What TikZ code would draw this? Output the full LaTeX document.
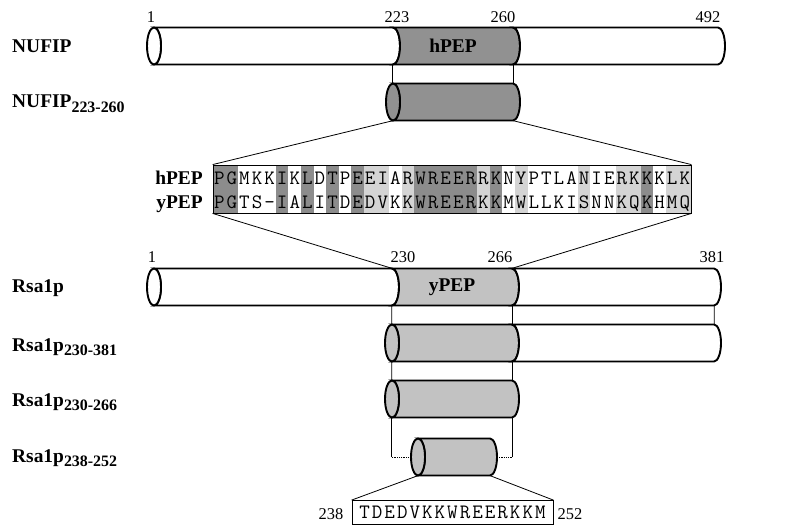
\documentclass[tikz,border=0pt]{standalone}
\usepackage{fontspec}
\setmainfont{Liberation Serif}
\definecolor{hpepgray}{gray}{0.57}
\definecolor{ypepgray}{gray}{0.76}
\definecolor{idgray}{gray}{0.55}
\definecolor{simgray}{gray}{0.83}

% one piece of a tube, from x #1 to x #2, centre y #3, filled with #4
\newcommand{\tubeseg}[4]{%
  \filldraw[tube, fill=#4] (#1,#3+18.5) arc[start angle=90, end angle=-90, x radius=7bp, y radius=18.5bp]
    -- (#2,#3-18.5) arc[start angle=-90, end angle=90, x radius=7bp, y radius=18.5bp] -- cycle;}
\newcommand{\tubecap}[3]{%
  \filldraw[tube, fill=#3] (#1,#2) ellipse[x radius=7bp, y radius=18.5bp];}
\newcommand{\lowsub}[1]{\raisebox{-4.5bp}{\fontsize{16}{16}\selectfont #1}}

\begin{document}
\begin{tikzpicture}[x=1bp, y=1bp]
    % Define styles
    \tikzstyle{tube} = [draw=black, line width=1.9bp]
    \tikzstyle{link} = [draw=black, line width=0.8bp]
    \tikzstyle{segbox} = [rectangle, inner sep=0, minimum height=37bp, font=\fontsize{19.5}{20}\selectfont\bfseries]
    \tikzstyle{protname} = [anchor=base west, inner sep=0, font=\fontsize{19.5}{20}\selectfont\bfseries]
    \tikzstyle{resnum} = [anchor=base, inner sep=0, font=\fontsize{16.5}{17}\selectfont]
    \tikzstyle{aa} = [anchor=base, inner sep=0, font=\fontsize{20.5}{20.5}\selectfont\ttfamily]

    \useasboundingbox (0,0) rectangle (804,-526);

    % Tubes
    \tubeseg{154}{393}{-46}{white}
    \tubeseg{393}{513}{-46}{hpepgray}
    \tubeseg{513}{718}{-46}{white}
    \tubecap{154}{-46}{white}

    \tubeseg{393}{513}{-102}{hpepgray}
    \tubecap{393}{-102}{hpepgray}

    \tubeseg{154}{392}{-287}{white}
    \tubeseg{392}{512}{-287}{ypepgray}
    \tubeseg{512}{714}{-287}{white}
    \tubecap{154}{-287}{white}

    \tubeseg{392}{512}{-343}{ypepgray}
    \tubeseg{512}{714}{-343}{white}
    \tubecap{392}{-343}{ypepgray}

    \tubeseg{392}{512}{-399}{ypepgray}
    \tubecap{392}{-399}{ypepgray}

    \tubeseg{418}{490}{-457}{ypepgray}
    \tubecap{418}{-457}{ypepgray}

    % Domains
    \node[segbox, minimum width=120bp] (hpep) at (453,-46) {hPEP};
    \node[segbox, minimum width=120bp] (nsub) at (453,-102) {};
    \node[segbox, minimum width=564bp] (nufip) at (436,-46) {};
    \node[segbox, minimum width=120bp] (ypep) at (452,-287) {yPEP};
    \node[segbox, minimum width=560bp] (rsa) at (434,-287) {};
    \node[segbox, minimum width=322bp] (r381) at (553,-343) {};
    \node[segbox, minimum width=120bp] (r266) at (452,-399) {};
    \node[segbox, minimum width=72bp] (r252) at (454,-457) {};

    % Protein names
    \node[protname] (lnufip) at (12,-52.5) {NUFIP};
    \node[protname] (lnsub) at (12,-108) {NUFIP\lowsub{223-260}};
    \node[protname] (lrsa) at (12,-293) {Rsa1p};
    \node[protname] (lr381) at (12,-351) {Rsa1p\lowsub{230-381}};
    \node[protname] (lr266) at (12,-406) {Rsa1p\lowsub{230-266}};
    \node[protname] (lr252) at (12,-462) {Rsa1p\lowsub{238-252}};

    % Residue numbers
    \node[resnum] (n1) at (151,-23) {1};
    \node[resnum] (n223) at (397,-23) {223};
    \node[resnum] (n260) at (503,-23) {260};
    \node[resnum] (n492) at (708,-23) {492};
    \node[resnum] (r1) at (152,-263) {1};
    \node[resnum] (r230) at (403,-263) {230};
    \node[resnum] (r266n) at (500,-263) {266};
    \node[resnum] (r381n) at (712,-263) {381};
    \node[resnum] (m238) at (331,-519) {238};
    \node[resnum] (m252) at (570,-519) {252};

    % Alignment
    \foreach \c in {1,2,6,8,10,12,17,18,19,20,21,23,35}
        \fill[idgray] (200.42+12.58*\c,-165) rectangle +(12.58,-48);
    \foreach \c in {13,14,16,22,25,30,33,34,37,38}
        \fill[simgray] (200.42+12.58*\c,-165) rectangle +(12.58,-48);
    \node[link, rectangle, inner sep=0, minimum width=478bp, minimum height=48bp] (aln) at (452,-189) {};
    \node[protname, anchor=base east] (lh) at (203,-185) {hPEP};
    \node[protname, anchor=base east] (ly) at (203,-209) {yPEP};
    \foreach \r [count=\k] in {P,G,M,K,K,I,K,L,D,T,P,E,E,I,A,R,W,R,E,E,R,R,K,N,Y,P,T,L,A,N,I,E,R,K,K,K,L,K}
        \node[aa] (h\k) at (206.71+12.58*\k,-185) {\r};
    \foreach \r [count=\k] in {P,G,T,S,-,I,A,L,I,T,D,E,D,V,K,K,W,R,E,E,R,K,K,M,W,L,L,K,I,S,N,N,K,Q,K,H,M,Q}
        \node[aa] (y\k) at (206.71+12.58*\k,-209) {\r};

    % Peptide
    \node[link, rectangle, inner sep=0, minimum width=201bp, minimum height=24bp] (motif) at (452.5,-512.5) {};
    \foreach \r [count=\k] in {T,D,E,D,V,K,K,W,R,E,E,R,K,K,M}
        \node[aa] (p\k) at (352.1+12.55*\k,-518) {\r};

    % Connectors
    \draw[link] (hpep.south west) -- (nsub.north west);
    \draw[link] (hpep.south east) -- (nsub.north east);
    \draw[link] (nsub.south west) -- (aln.north west);
    \draw[link] (nsub.south east) -- (aln.north east);
    \draw[link] (aln.south west) -- (ypep.north west);
    \draw[link] (aln.south east) -- (ypep.north east);
    \draw[link] (ypep.south west) -- (r381.north west);
    \draw[link] (ypep.south east) -- (ypep.south east |- r381.north);
    \draw[link] (rsa.south east) -- (r381.north east);
    \draw[link] (r381.south west) -- (r266.north west);
    \draw[link] (r266.north east |- r381.south) -- (r266.north east);
    \coordinate (dotL) at (r266.south west |- r252.west);
    \coordinate (dotR) at (r266.south east |- r252.east);
    \draw[link] (r266.south west) -- (dotL);
    \draw[link] (r266.south east) -- (dotR);
    \draw[link, densely dotted] (dotL) -- ([xshift=-7bp]r252.west);
    \draw[link, densely dotted] (dotR) -- ([xshift=7bp]r252.east);
    \draw[link] (r252.south west) -- (motif.north west);
    \draw[link] (r252.south east) -- (motif.north east);

\end{tikzpicture}
\end{document}
